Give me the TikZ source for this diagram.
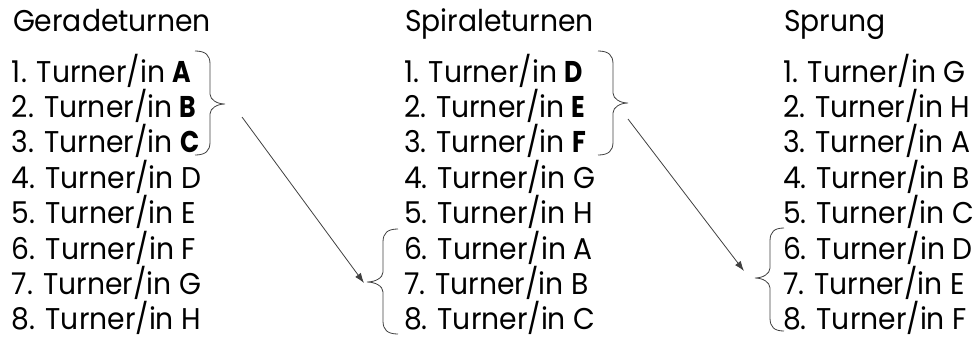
\documentclass[tikz,border=0pt]{standalone}
\usepackage{fontspec}
\setmainfont[FakeStretch=0.94,BoldFeatures={FakeStretch=0.84}]{Poppins}
\usetikzlibrary{arrows.meta}
\tikzset{
  entry/.style={anchor=base west, inner sep=0pt, outer sep=0pt, text depth=0pt, font=\fontsize{30}{36}\selectfont},
  bracestyle/.style={draw=black!75, line width=0.8pt},
  conn/.style={draw=black!75, line width=0.8pt, -{Latex[length=10pt,width=7pt]}}
}
% #1 end x, #2 vertical x, #3 tip x, #4 top y, #5 middle y, #6 bottom y
\newcommand\BraceShape[6]{%
  \draw[bracestyle] (#1,#4) .. controls ({#1+0.7*(#2-#1)},#4) and (#2,{#4+4}) .. (#2,{#4+13})
    -- (#2,{#5-10}) .. controls (#2,{#5-4}) and ({#2+0.5*(#3-#2)},#5) .. (#3,#5)
    .. controls ({#2+0.5*(#3-#2)},#5) and (#2,{#5+4}) .. (#2,{#5+10})
    -- (#2,{#6-13}) .. controls (#2,{#6-4}) and ({#1+0.7*(#2-#1)},#6) .. (#1,#6);}
\begin{document}
\begin{tikzpicture}[x=1pt,y=-1pt]
\useasboundingbox (0,0) rectangle (974,341);
% column 1
\node[entry] (h1) at (13,31) {Geradeturnen};
\node[entry] (g1) at (12,82)  {1. Turner/in \textbf{A}};
\node[entry] (g2) at (12,117.4) {2. Turner/in \textbf{B}};
\node[entry] (g3) at (12,152.8) {3. Turner/in \textbf{C}};
\node[entry] (g4) at (12,188.2) {4. Turner/in D};
\node[entry] (g5) at (12,223.6) {5. Turner/in E};
\node[entry] (g6) at (12,259) {6. Turner/in F};
\node[entry] (g7) at (12,294.4) {7. Turner/in G};
\node[entry] (g8) at (12,329.8) {8. Turner/in H};
% column 2
\node[entry] (h2) at (405,31) {Spiraleturnen};
\node[entry] (s1) at (404,82)  {1. Turner/in \textbf{D}};
\node[entry] (s2) at (404,117.4) {2. Turner/in \textbf{E}};
\node[entry] (s3) at (404,152.8) {3. Turner/in \textbf{F}};
\node[entry] (s4) at (404,188.2) {4. Turner/in G};
\node[entry] (s5) at (404,223.6) {5. Turner/in H};
\node[entry] (s6) at (404,259) {6. Turner/in A};
\node[entry] (s7) at (404,294.4) {7. Turner/in B};
\node[entry] (s8) at (404,329.8) {8. Turner/in C};
% column 3
\node[entry] (h3) at (784,31) {Sprung};
\node[entry] (p1) at (783,82)  {1. Turner/in G};
\node[entry] (p2) at (783,117.4) {2. Turner/in H};
\node[entry] (p3) at (783,152.8) {3. Turner/in A};
\node[entry] (p4) at (783,188.2) {4. Turner/in B};
\node[entry] (p5) at (783,223.6) {5. Turner/in C};
\node[entry] (p6) at (783,259) {6. Turner/in D};
\node[entry] (p7) at (783,294.4) {7. Turner/in E};
\node[entry] (p8) at (783,329.8) {8. Turner/in F};
% braces
\BraceShape{195}{210}{225}{51}{104}{155}
\BraceShape{598}{613}{628}{51}{103}{155}
\BraceShape{398}{383}{367}{229}{282}{334}
\BraceShape{784}{770}{755}{228}{278}{331}
% connectors
\coordinate (a1s) at (242,117);
\coordinate (a1e) at (364,283);
\coordinate (a2s) at (628,119);
\coordinate (a2e) at (744,271);
\draw[conn] (a1s) -- (a1e);
\draw[conn] (a2s) -- (a2e);
\end{tikzpicture}
\end{document}
